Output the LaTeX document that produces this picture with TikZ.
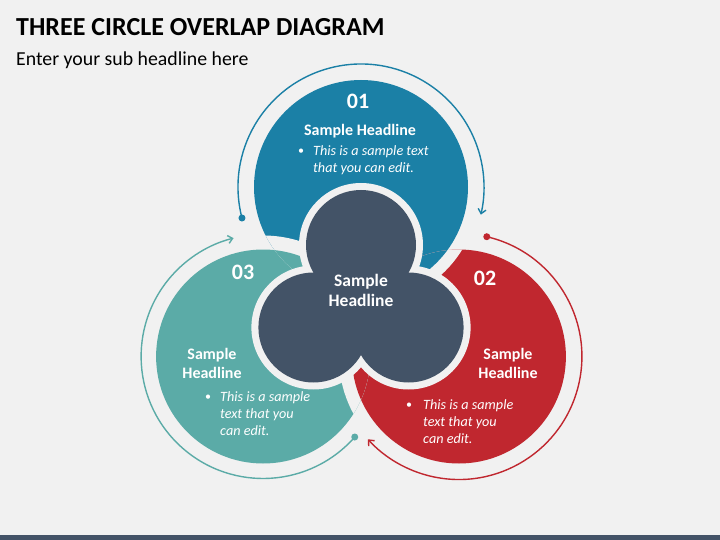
\documentclass[tikz,border=0pt]{standalone}
\usepackage{fontspec}
\setmainfont{Carlito}
\usetikzlibrary{arrows.meta,calc}
\definecolor{bgc}{HTML}{F1F1F1}
\definecolor{bluec}{HTML}{1B80A6}
\definecolor{redc}{HTML}{C0272F}
\definecolor{tealc}{HTML}{5BABA7}
\definecolor{darkc}{HTML}{435367}
\tikzset{
  numtxt/.style={text=white,font=\fontsize{22}{24}\selectfont\bfseries,anchor=base,inner sep=0pt},
  headtxt/.style={text=white,font=\fontsize{16}{19}\selectfont\bfseries,anchor=base,inner sep=0pt,align=center},
  bodytxt/.style={text=white,font=\fontsize{14.2}{17}\selectfont\itshape,anchor=base west,inner sep=0pt,align=left},
  bultxt/.style={text=white,font=\fontsize{12}{17}\selectfont,anchor=base,inner sep=0pt},
  cyc/.style={line width=1.4pt},
  tipend/.style={-{Straight Barb[length=4.5pt,width=8pt]}},
}
\begin{document}
\begin{tikzpicture}[x=1pt,y=-1pt]
\fill[bgc] (0,0) rectangle (720,540);
\useasboundingbox (0,0) rectangle (720,540);
\fill[darkc] (0,535) rectangle (720,540);
\node[anchor=base west,inner sep=0pt,font=\fontsize{26}{30}\selectfont\bfseries] (title) at (16,36) {THREE CIRCLE OVERLAP DIAGRAM};
\node[anchor=base west,inner sep=0pt,font=\fontsize{19.8}{22}\selectfont] (sub) at (16,66) {Enter your sub headline here};
% centres
\coordinate (O) at (361,300);
\coordinate (B) at (361,187);
\coordinate (R) at (458.9,356.5);
\coordinate (T) at (263.1,356.5);
\coordinate (cb) at (361,245);
\coordinate (cr) at (408.6,327.5);
\coordinate (ct) at (313.4,327.5);
% outer circles
\fill[bluec] (B) circle[radius=107pt];
\fill[redc] (R) circle[radius=107pt];
\fill[tealc] (T) circle[radius=107pt];
\begin{scope}
  \clip (B) circle[radius=107pt];
  \fill[bgc] (T) circle[radius=121pt];
  \fill[tealc] (T) circle[radius=107pt];
\end{scope}
\begin{scope}
  \clip (R) circle[radius=107pt];
  \fill[bgc] (B) circle[radius=119pt];
  \fill[bluec] (B) circle[radius=107pt];
\end{scope}
\begin{scope}
  \clip (T) circle[radius=107pt];
  \fill[bgc] (R) circle[radius=120pt];
  \fill[redc] (R) circle[radius=107pt];
\end{scope}
% trefoil
\fill[bgc] (cb) circle[radius=62pt] (cr) circle[radius=62pt] (ct) circle[radius=62pt] (O) circle[radius=45pt];
\fill[darkc] (cb) circle[radius=55pt] (cr) circle[radius=55pt] (ct) circle[radius=55pt] (O) circle[radius=40pt];
% cycle arrows
\fill[bluec] ($(B)+(194.6:123pt)$) coordinate (bd) circle[radius=3.5pt];
\draw[cyc,bluec,tipend] (bd) arc[start angle=194.6,end angle=-13,radius=123pt] coordinate (be);
\fill[redc] ($(R)+(76.9:123pt)$) coordinate (rd) circle[radius=3.5pt];
\draw[cyc,redc,tipend] (rd) arc[start angle=76.9,end angle=-137.7,radius=123pt] coordinate (re);
\fill[tealc] ($(T)+(-41.3:122pt)$) coordinate (td) circle[radius=3.5pt];
\draw[cyc,tealc,tipend] (td) arc[start angle=-41.3,end angle=-256,radius=122pt] coordinate (te);
% texts (multi-line nodes are anchored at the baseline of their last line)
\node[numtxt] (n1) at (358,109) {01};
\node[headtxt] (h1) at (360,136) {Sample Headline};
\node[bultxt] (b1) at (301,155) {•};
\node[bodytxt] (t1) at (313,173) {This is a sample text\\that you can edit.};
\node[numtxt] (n2) at (485,285) {02};
\node[headtxt] (h2) at (508,378) {Sample\\Headline};
\node[bultxt] (b2) at (409,408) {•};
\node[bodytxt] (t2) at (423,443) {This is a sample\\text that you\\can edit.};
\node[numtxt] (n3) at (243,279) {03};
\node[headtxt] (h3) at (212,378) {Sample\\Headline};
\node[bultxt] (b3) at (208,400) {•};
\node[bodytxt] (t3) at (220,435) {This is a sample\\text that you\\can edit.};
\node[headtxt,font=\fontsize{17.5}{20}\selectfont\bfseries] (hc) at (361,306) {Sample\\Headline};
\end{tikzpicture}
\end{document}
